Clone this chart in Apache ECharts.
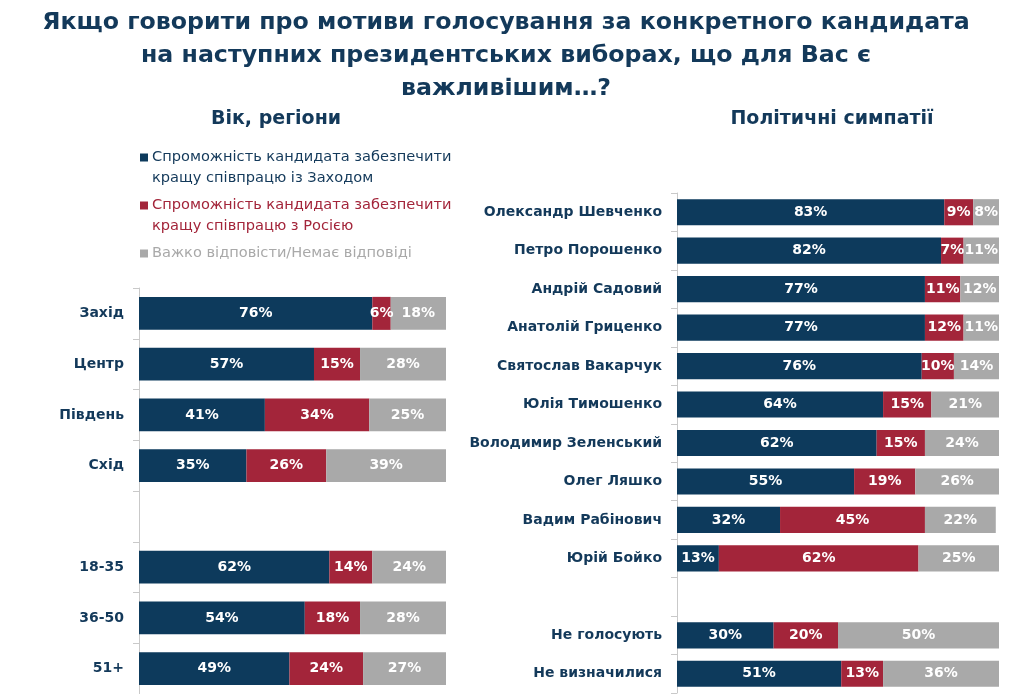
<!DOCTYPE html>
<html>
<head>
<meta charset="utf-8">
<script src="https://cdn.jsdelivr.net/npm/echarts@6/dist/echarts.min.js"></script>
<style>html,body{margin:0;padding:0;background:#fff;}#c{width:1024px;height:694px;}</style>
</head>
<body>
<div id="c"></div>
<script>
// Left panel: age & regions
const leftCategories = ['Захід', 'Центр', 'Південь', 'Схід', '', '18-35', '36-50', '51+'];
const leftWest   = [76, 57, 41, 35, null, 62, 54, 49];
const leftRussia = [6, 15, 34, 26, null, 14, 18, 24];
const leftHard   = [18, 28, 25, 39, null, 24, 28, 27];

// Right panel: political sympathies
const rightCategories = ['Олександр Шевченко', 'Петро Порошенко', 'Андрій Садовий', 'Анатолій Гриценко',
  'Святослав Вакарчук', 'Юлія Тимошенко', 'Володимир Зеленський', 'Олег Ляшко', 'Вадим Рабінович',
  'Юрій Бойко', '', 'Не голосують', 'Не визначилися'];
const rightWest   = [83, 82, 77, 77, 76, 64, 62, 55, 32, 13, null, 30, 51];
const rightRussia = [9, 7, 11, 12, 10, 15, 15, 19, 45, 62, null, 20, 13];
const rightHard   = [8, 11, 12, 11, 14, 21, 24, 26, 22, 25, null, 50, 36];

const seriesNames = [
  'Спроможність кандидата забезпечити кращу співпрацю із Заходом',
  'Спроможність кандидата забезпечити кращу співпрацю з Росією',
  'Важко відповісти/Немає відповіді'
];
const legendLines = [
  ['Спроможність кандидата забезпечити', 'кращу співпрацю із Заходом'],
  ['Спроможність кандидата забезпечити', 'кращу співпрацю з Росією'],
  ['Важко відповісти/Немає відповіді']
];

const C_BLUE = '#0d3a5c', C_RED = '#a3253a', C_GRAY = '#a9a9a9';
const colors = [C_BLUE, C_RED, C_GRAY];
const legendTextColors = ['#13395a', '#a3253a', '#a9a9a9'];
const TXT = '#13395a';
const FONT = 'DejaVu Sans';

const chart = echarts.init(document.getElementById('c'));

function mkSeries(name, data, idx, color) {
  return {
    name: name, type: 'bar', stack: 'total' + idx,
    xAxisIndex: idx, yAxisIndex: idx,
    data: data, barWidth: idx === 0 ? '65%' : '68%',
    itemStyle: { color: color },
    label: {
      show: true, position: 'inside', color: '#fff', fontFamily: FONT,
      fontWeight: 'bold', fontSize: 14,
      formatter: p => (p.value == null ? '' : p.value + '%')
    },
    emphasis: { disabled: true },
    animation: false
  };
}

const yAxisCommon = {
  type: 'category', inverse: true,
  axisLine: { show: true, lineStyle: { color: '#c9c9c9', width: 1 } },
  axisTick: { show: true, length: 6, lineStyle: { color: '#c9c9c9' } },
  axisLabel: { color: TXT, fontFamily: FONT, fontWeight: 'bold', fontSize: 14, margin: 15 }
};

const option = {
  animation: false,
  textStyle: { fontFamily: FONT },
  title: [
    {
      text: 'Якщо говорити про мотиви голосування за конкретного кандидата\nна наступних президентських виборах, що для Вас є\nважливішим…?',
      left: 506, top: 0, padding: [6, 0, 0, 0],
      textAlign: 'center',
      textStyle: { color: TXT, fontFamily: FONT, fontWeight: 'bold', fontSize: 23.7, lineHeight: 33, align: 'center' }
    },
    {
      text: 'Вік, регіони', left: 276, top: 110, textAlign: 'center', padding: 0,
      textStyle: { color: TXT, fontFamily: FONT, fontWeight: 'bold', fontSize: 19 }
    },
    {
      text: 'Політичні симпатії', left: 832, top: 110, textAlign: 'center', padding: 0,
      textStyle: { color: TXT, fontFamily: FONT, fontWeight: 'bold', fontSize: 19 }
    }
  ],
  legend: {
    orient: 'vertical', left: 140, top: 147, padding: 0, itemGap: 6,
    icon: 'none', itemWidth: 0, itemHeight: 8,
    selectedMode: false,
    data: seriesNames.map((n, i) => ({
      name: n,
      textStyle: {
        color: legendTextColors[i], fontFamily: FONT, fontSize: 14.6, lineHeight: 21, padding: [0,0,0,-5],
        rich: {
          sq: { width: 8, height: 8, backgroundColor: colors[i] },
          g: { width: 4 },
          pad: { width: 12 },
          t: { color: legendTextColors[i], fontFamily: FONT, fontSize: 14.6, lineHeight: 21 }
        }
      }
    })),
    formatter: function (name) {
      const i = seriesNames.indexOf(name);
      const lines = legendLines[i];
      let s = '{sq|}{g|}{t|' + lines[0] + '}';
      for (let k = 1; k < lines.length; k++) s += '\n{pad|}{t|' + lines[k] + '}';
      return s;
    }
  },
  grid: [
    { left: 139, width: 307, top: 288, height: 408, containLabel: false },
    { left: 677, width: 322, top: 193, height: 500, containLabel: false }
  ],
  xAxis: [
    { type: 'value', gridIndex: 0, min: 0, max: 100, show: false },
    { type: 'value', gridIndex: 1, min: 0, max: 100, show: false }
  ],
  yAxis: [
    Object.assign({ gridIndex: 0, data: leftCategories }, yAxisCommon),
    Object.assign({ gridIndex: 1, data: rightCategories }, yAxisCommon)
  ],
  series: [
    mkSeries(seriesNames[0], leftWest, 0, C_BLUE),
    mkSeries(seriesNames[1], leftRussia, 0, C_RED),
    mkSeries(seriesNames[2], leftHard, 0, C_GRAY),
    mkSeries(seriesNames[0], rightWest, 1, C_BLUE),
    mkSeries(seriesNames[1], rightRussia, 1, C_RED),
    mkSeries(seriesNames[2], rightHard, 1, C_GRAY)
  ]
};
chart.setOption(option);
</script>
</body>
</html>
